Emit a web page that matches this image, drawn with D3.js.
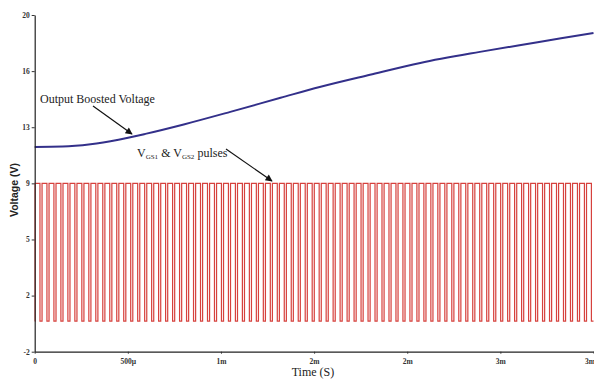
<!DOCTYPE html>
<html>
<head>
<meta charset="utf-8">
<script src="https://cdn.jsdelivr.net/npm/d3@7/dist/d3.min.js"></script>
<style>
  html, body { margin: 0; padding: 0; background: #fff; }
  svg { display: block; }
</style>
</head>
<body>
<svg id="chart" width="594" height="381"></svg>
<script>
// ---- data ----
const timeDomain = [0, 0.003];
const voltDomain = [-2, 20];
const yTickValues = [-2, 1.667, 5.333, 9, 12.667, 16.333, 20];
const yTickLabels = ["-2", "2", "5", "9", "13", "16", "20"];
const xTickValues = [0, 0.0005, 0.001, 0.0015, 0.002, 0.0025, 0.003];
const xTickLabels = ["0", "500\u00b5", "1m", "2m", "2m", "3m", "3m"];

// Output boosted voltage (s, V)
const boostTime = [0, 0.00015, 0.00030, 0.00045, 0.00060, 0.00080, 0.00105, 0.00132, 0.00153, 0.00180, 0.00207, 0.00239, 0.00270, 0.00300];
const boostVolt = [11.38, 11.40, 11.55, 11.85, 12.25, 12.85, 13.67, 14.59, 15.30, 16.10, 16.87, 17.59, 18.22, 18.83];

// Gate pulses (VGS1 & VGS2)
const pulseHigh = 9;
const pulseLow = 0;
const pulseCount = 80;
const pulseDuty = 0.7;
const pulseStart = 0.000002;

// ---- layout ----
const svg = d3.select("#chart");
const x = d3.scaleLinear().domain(timeDomain).range([34.7, 593.5]);
const y = d3.scaleLinear().domain(voltDomain).range([351.7, 15]);

// pulse step points
const period = (timeDomain[1] - pulseStart) / pulseCount;
const pulsePts = [[0, pulseLow]];
for (let i = 0; i < pulseCount; i++) {
  const t0 = pulseStart + i * period;
  pulsePts.push([t0, pulseHigh]);
  pulsePts.push([t0 + period * pulseDuty, pulseLow]);
}
pulsePts.push([timeDomain[1], pulseLow]);

svg.append("path")
  .datum(pulsePts)
  .attr("fill", "none")
  .attr("stroke", "#d6413d")
  .attr("stroke-width", 1.2)
  .attr("d", d3.line().x(d => x(d[0])).y(d => y(d[1])).curve(d3.curveStepAfter));

// boost line
const boostData = boostTime.map((t, i) => [t, boostVolt[i]]);
svg.append("path")
  .datum(boostData)
  .attr("fill", "none")
  .attr("stroke", "#33308a")
  .attr("stroke-width", 2)
  .attr("d", d3.line().x(d => x(d[0])).y(d => y(d[1])).curve(d3.curveMonotoneX));

// axes
const yAxis = d3.axisLeft(y).tickValues(yTickValues)
  .tickFormat((d, i) => yTickLabels[i]).tickSizeInner(3).tickSizeOuter(0).tickPadding(2);
const gy = svg.append("g").attr("transform", `translate(${x(0)},0)`).call(yAxis);

const xAxis = d3.axisBottom(x).tickValues(xTickValues)
  .tickFormat((d, i) => xTickLabels[i]).tickSizeInner(2).tickSizeOuter(0).tickPadding(5);
const gx = svg.append("g").attr("transform", `translate(0,${y(-2)})`).call(xAxis);

[gx, gy].forEach(g => {
  g.select(".domain").attr("stroke", "#222").attr("stroke-width", 1.2);
  g.selectAll(".tick line").attr("stroke", "#333");
  g.selectAll(".tick text")
    .attr("font-family", "Liberation Serif, serif")
    .attr("font-size", 7.5)
    .attr("font-weight", "bold")
    .attr("fill", "#333");
});
// keep last x label inside the frame
gx.selectAll(".tick text").filter((d, i) => i === xTickValues.length - 1)
  .attr("text-anchor", "end").attr("dx", 1);

// axis titles
svg.append("text")
  .attr("x", 313).attr("y", 376)
  .attr("text-anchor", "middle")
  .attr("font-family", "Liberation Serif, serif")
  .attr("font-size", 12)
  .attr("fill", "#222")
  .text("Time (S)");

svg.append("text")
  .attr("transform", "translate(18,190) rotate(-90)")
  .attr("text-anchor", "middle")
  .attr("font-family", "Liberation Sans, Arial, sans-serif")
  .attr("font-size", 10.5)
  .attr("font-weight", "bold")
  .attr("fill", "#222")
  .text("Voltage (V)");

// arrow marker
const defs = svg.append("defs");
defs.append("marker")
  .attr("id", "arrow")
  .attr("viewBox", "0 0 10 10")
  .attr("refX", 9).attr("refY", 5)
  .attr("markerWidth", 9).attr("markerHeight", 7)
  .attr("markerUnits", "userSpaceOnUse")
  .attr("orient", "auto")
  .append("path").attr("d", "M0,0 L10,5 L0,10 z").attr("fill", "#111");

// annotations
svg.append("text")
  .attr("x", 40).attr("y", 103)
  .attr("font-family", "Liberation Serif, serif")
  .attr("font-size", 12)
  .attr("fill", "#222")
  .text("Output Boosted Voltage");

svg.append("line")
  .attr("x1", 93).attr("y1", 106).attr("x2", 132).attr("y2", 134)
  .attr("stroke", "#111").attr("stroke-width", 1.2)
  .attr("marker-end", "url(#arrow)");

const t2 = svg.append("text")
  .attr("x", 137).attr("y", 157)
  .attr("font-family", "Liberation Serif, serif")
  .attr("font-size", 12)
  .attr("fill", "#222");
t2.append("tspan").text("V");
t2.append("tspan").attr("font-size", 7).attr("dy", 2).text("GS1");
t2.append("tspan").attr("dy", -2).text(" & V");
t2.append("tspan").attr("font-size", 7).attr("dy", 2).text("GS2");
t2.append("tspan").attr("dy", -2).text(" pulses");

svg.append("line")
  .attr("x1", 226).attr("y1", 149).attr("x2", 272).attr("y2", 181)
  .attr("stroke", "#111").attr("stroke-width", 1.2)
  .attr("marker-end", "url(#arrow)");
</script>
</body>
</html>
